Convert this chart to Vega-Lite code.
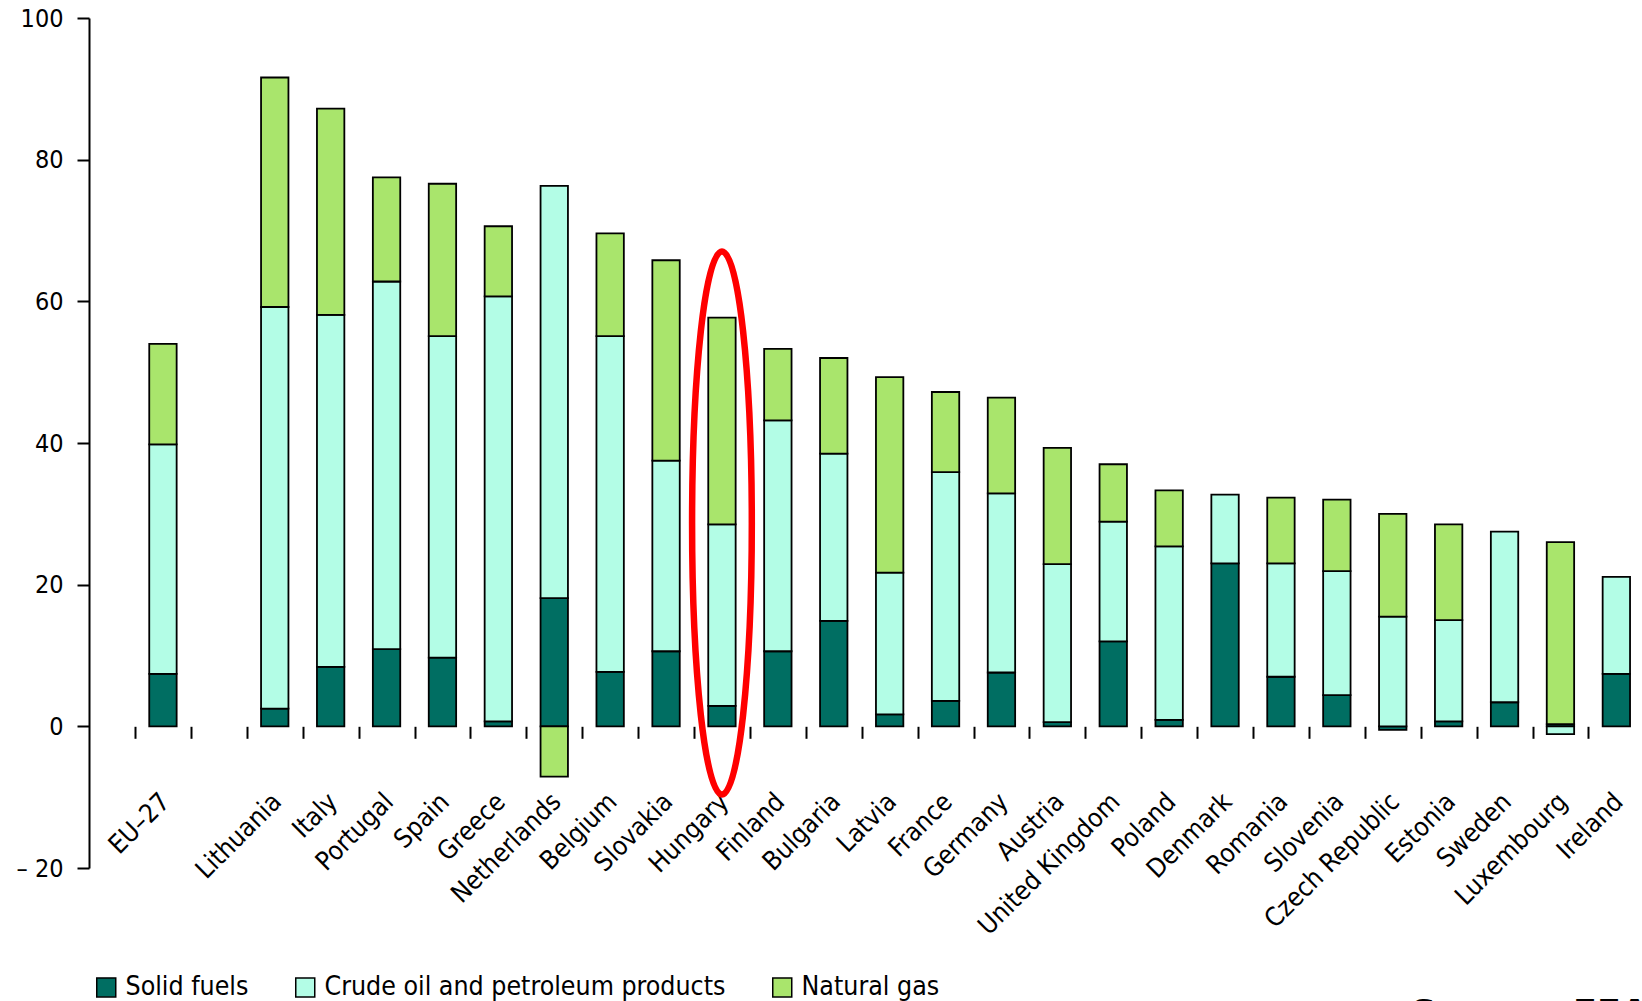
{
  "$schema": "https://vega.github.io/schema/vega-lite/v6.json",
  "width": 1553,
  "height": 850,
  "autosize": {"type": "none"},
  "padding": {"left": 89, "top": 18, "right": 0, "bottom": 133},
  "title": {
    "text": "Source: EEA",
    "orient": "bottom",
    "anchor": "end",
    "frame": "group",
    "fontSize": 35,
    "fontWeight": "bold",
    "font": "DejaVu Sans",
    "color": "black",
    "baseline": "top",
    "offset": -4,
    "dx": 6
  },
  "config": {
    "view": {"stroke": null},
    "font": "DejaVu Sans Condensed, DejaVu Sans",
    "axis": {"labelFont": "DejaVu Sans Condensed, DejaVu Sans"},
    "legend": {"labelFont": "DejaVu Sans Condensed, DejaVu Sans"}
  },
  "datasets": {
    "bars": [
      {"country": "EU–27", "fuel": "Solid fuels", "ord": 1, "value": 7.4},
      {"country": "EU–27", "fuel": "Crude oil and petroleum products", "ord": 2, "value": 32.4},
      {"country": "EU–27", "fuel": "Natural gas", "ord": 3, "value": 14.2},
      {"country": "Lithuania", "fuel": "Solid fuels", "ord": 1, "value": 2.5},
      {"country": "Lithuania", "fuel": "Crude oil and petroleum products", "ord": 2, "value": 56.7},
      {"country": "Lithuania", "fuel": "Natural gas", "ord": 3, "value": 32.4},
      {"country": "Italy", "fuel": "Solid fuels", "ord": 1, "value": 8.4},
      {"country": "Italy", "fuel": "Crude oil and petroleum products", "ord": 2, "value": 49.7},
      {"country": "Italy", "fuel": "Natural gas", "ord": 3, "value": 29.1},
      {"country": "Portugal", "fuel": "Solid fuels", "ord": 1, "value": 10.9},
      {"country": "Portugal", "fuel": "Crude oil and petroleum products", "ord": 2, "value": 51.9},
      {"country": "Portugal", "fuel": "Natural gas", "ord": 3, "value": 14.7},
      {"country": "Spain", "fuel": "Solid fuels", "ord": 1, "value": 9.7},
      {"country": "Spain", "fuel": "Crude oil and petroleum products", "ord": 2, "value": 45.4},
      {"country": "Spain", "fuel": "Natural gas", "ord": 3, "value": 21.5},
      {"country": "Greece", "fuel": "Solid fuels", "ord": 1, "value": 0.7},
      {"country": "Greece", "fuel": "Crude oil and petroleum products", "ord": 2, "value": 60.0},
      {"country": "Greece", "fuel": "Natural gas", "ord": 3, "value": 9.9},
      {"country": "Netherlands", "fuel": "Solid fuels", "ord": 1, "value": 18.1},
      {"country": "Netherlands", "fuel": "Crude oil and petroleum products", "ord": 2, "value": 58.2},
      {"country": "Netherlands", "fuel": "Natural gas", "ord": 3, "value": -7.1},
      {"country": "Belgium", "fuel": "Solid fuels", "ord": 1, "value": 7.7},
      {"country": "Belgium", "fuel": "Crude oil and petroleum products", "ord": 2, "value": 47.4},
      {"country": "Belgium", "fuel": "Natural gas", "ord": 3, "value": 14.5},
      {"country": "Slovakia", "fuel": "Solid fuels", "ord": 1, "value": 10.6},
      {"country": "Slovakia", "fuel": "Crude oil and petroleum products", "ord": 2, "value": 26.9},
      {"country": "Slovakia", "fuel": "Natural gas", "ord": 3, "value": 28.3},
      {"country": "Hungary", "fuel": "Solid fuels", "ord": 1, "value": 2.9},
      {"country": "Hungary", "fuel": "Crude oil and petroleum products", "ord": 2, "value": 25.6},
      {"country": "Hungary", "fuel": "Natural gas", "ord": 3, "value": 29.2},
      {"country": "Finland", "fuel": "Solid fuels", "ord": 1, "value": 10.6},
      {"country": "Finland", "fuel": "Crude oil and petroleum products", "ord": 2, "value": 32.6},
      {"country": "Finland", "fuel": "Natural gas", "ord": 3, "value": 10.1},
      {"country": "Bulgaria", "fuel": "Solid fuels", "ord": 1, "value": 14.9},
      {"country": "Bulgaria", "fuel": "Crude oil and petroleum products", "ord": 2, "value": 23.6},
      {"country": "Bulgaria", "fuel": "Natural gas", "ord": 3, "value": 13.5},
      {"country": "Latvia", "fuel": "Solid fuels", "ord": 1, "value": 1.7},
      {"country": "Latvia", "fuel": "Crude oil and petroleum products", "ord": 2, "value": 20.0},
      {"country": "Latvia", "fuel": "Natural gas", "ord": 3, "value": 27.6},
      {"country": "France", "fuel": "Solid fuels", "ord": 1, "value": 3.6},
      {"country": "France", "fuel": "Crude oil and petroleum products", "ord": 2, "value": 32.3},
      {"country": "France", "fuel": "Natural gas", "ord": 3, "value": 11.3},
      {"country": "Germany", "fuel": "Solid fuels", "ord": 1, "value": 7.6},
      {"country": "Germany", "fuel": "Crude oil and petroleum products", "ord": 2, "value": 25.3},
      {"country": "Germany", "fuel": "Natural gas", "ord": 3, "value": 13.5},
      {"country": "Austria", "fuel": "Solid fuels", "ord": 1, "value": 0.6},
      {"country": "Austria", "fuel": "Crude oil and petroleum products", "ord": 2, "value": 22.3},
      {"country": "Austria", "fuel": "Natural gas", "ord": 3, "value": 16.4},
      {"country": "United Kingdom", "fuel": "Solid fuels", "ord": 1, "value": 12.0},
      {"country": "United Kingdom", "fuel": "Crude oil and petroleum products", "ord": 2, "value": 16.9},
      {"country": "United Kingdom", "fuel": "Natural gas", "ord": 3, "value": 8.1},
      {"country": "Poland", "fuel": "Solid fuels", "ord": 1, "value": 0.9},
      {"country": "Poland", "fuel": "Crude oil and petroleum products", "ord": 2, "value": 24.5},
      {"country": "Poland", "fuel": "Natural gas", "ord": 3, "value": 7.9},
      {"country": "Denmark", "fuel": "Solid fuels", "ord": 1, "value": 23.0},
      {"country": "Denmark", "fuel": "Crude oil and petroleum products", "ord": 2, "value": 9.7},
      {"country": "Romania", "fuel": "Solid fuels", "ord": 1, "value": 7.0},
      {"country": "Romania", "fuel": "Crude oil and petroleum products", "ord": 2, "value": 16.0},
      {"country": "Romania", "fuel": "Natural gas", "ord": 3, "value": 9.3},
      {"country": "Slovenia", "fuel": "Solid fuels", "ord": 1, "value": 4.4},
      {"country": "Slovenia", "fuel": "Crude oil and petroleum products", "ord": 2, "value": 17.5},
      {"country": "Slovenia", "fuel": "Natural gas", "ord": 3, "value": 10.1},
      {"country": "Czech Republic", "fuel": "Solid fuels", "ord": 1, "value": -0.5},
      {"country": "Czech Republic", "fuel": "Crude oil and petroleum products", "ord": 2, "value": 15.5},
      {"country": "Czech Republic", "fuel": "Natural gas", "ord": 3, "value": 14.5},
      {"country": "Estonia", "fuel": "Solid fuels", "ord": 1, "value": 0.7},
      {"country": "Estonia", "fuel": "Crude oil and petroleum products", "ord": 2, "value": 14.3},
      {"country": "Estonia", "fuel": "Natural gas", "ord": 3, "value": 13.5},
      {"country": "Sweden", "fuel": "Solid fuels", "ord": 1, "value": 3.4},
      {"country": "Sweden", "fuel": "Crude oil and petroleum products", "ord": 2, "value": 24.1},
      {"country": "Luxembourg", "fuel": "Solid fuels", "ord": 1, "value": 0.3},
      {"country": "Luxembourg", "fuel": "Crude oil and petroleum products", "ord": 2, "value": -1.1},
      {"country": "Luxembourg", "fuel": "Natural gas", "ord": 3, "value": 25.7},
      {"country": "Ireland", "fuel": "Solid fuels", "ord": 1, "value": 7.4},
      {"country": "Ireland", "fuel": "Crude oil and petroleum products", "ord": 2, "value": 13.7}
    ],
    "highlight": [
      {"country": "Hungary", "value": 28.7}
    ]
  },
  "layer": [
    {
      "data": {"name": "bars"},
      "mark": {"type": "bar", "stroke": "black", "strokeWidth": 1.8},
      "encoding": {
        "x": {
          "field": "country",
          "type": "nominal",
          "sort": null,
          "scale": {
            "domain": ["EU–27", " ", "Lithuania", "Italy", "Portugal", "Spain", "Greece", "Netherlands", "Belgium", "Slovakia", "Hungary", "Finland", "Bulgaria", "Latvia", "France", "Germany", "Austria", "United Kingdom", "Poland", "Denmark", "Romania", "Slovenia", "Czech Republic", "Estonia", "Sweden", "Luxembourg", "Ireland"],
            "range": [46, 1555.3],
            "paddingInner": 0.51,
            "paddingOuter": 0.255
          },
          "axis": {
            "title": null,
            "domain": false,
            "offset": -141.7,
            "ticks": true,
            "tickSize": 12,
            "tickWidth": 2,
            "tickColor": "black",
            "tickOffset": -27.95,
            "labelOffset": 30,
            "labelAngle": -45,
            "labelAlign": "right",
            "labelBaseline": "middle",
            "labelPadding": 59,
            "labelFontSize": 26,
            "labelColor": "black",
            "labelBound": false,
            "labelOverlap": false,
            "labelLimit": 0,
            "grid": false
          }
        },
        "y": {
          "field": "value",
          "type": "quantitative",
          "stack": "zero",
          "scale": {"domain": [-20, 100], "nice": false, "zero": false},
          "axis": {
            "title": null,
            "values": [-20, 0, 20, 40, 60, 80, 100],
            "grid": false,
            "domainColor": "black",
            "domainWidth": 2,
            "tickColor": "black",
            "tickWidth": 2,
            "tickSize": 12,
            "labelPadding": 14,
            "labelFontSize": 25,
            "labelColor": "black",
            "labelExpr": "datum.value < 0 ? '– ' + (-datum.value) : datum.label"
          }
        },
        "color": {
          "field": "fuel",
          "type": "nominal",
          "scale": {
            "domain": ["Solid fuels", "Crude oil and petroleum products", "Natural gas"],
            "range": ["#006e62", "#b3fde6", "#a9e56c"]
          },
          "legend": {
            "title": null,
            "orient": "none",
            "direction": "horizontal",
            "legendX": 4,
            "legendY": 956,
            "symbolType": "square",
            "symbolSize": 361,
            "symbolStrokeColor": "black",
            "symbolStrokeWidth": 1.5,
            "symbolOpacity": 1,
            "labelFontSize": 26.5,
            "labelColor": "black",
            "labelOffset": 6,
            "columnPadding": 43,
            "labelLimit": 0
          }
        },
        "order": {"field": "ord", "type": "quantitative"}
      }
    },
    {
      "mark": {"type": "rule", "color": "black", "strokeWidth": 2.5},
      "encoding": {"y": {"datum": 0}}
    },
    {
      "data": {"name": "highlight"},
      "mark": {
        "type": "point",
        "shape": "M0,-1C0.0608,-1,0.11,-0.5523,0.11,0C0.11,0.5523,0.0608,1,0,1C-0.0608,1,-0.11,0.5523,-0.11,0C-0.11,-0.5523,-0.0608,-1,0,-1Z",
        "size": 294849,
        "filled": false,
        "stroke": "#ff0000",
        "strokeWidth": 6.5,
        "opacity": 1
      },
      "encoding": {
        "x": {"field": "country", "type": "nominal"},
        "y": {"field": "value", "type": "quantitative"}
      }
    }
  ]
}
